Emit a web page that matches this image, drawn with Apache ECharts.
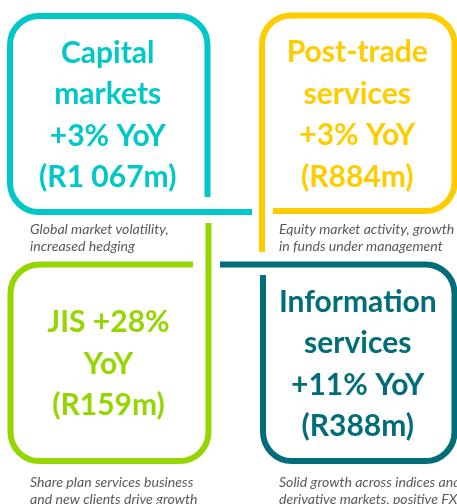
<!DOCTYPE html>
<html>
<head>
<meta charset="utf-8">
<script src="https://cdn.jsdelivr.net/npm/echarts@6/dist/echarts.min.js"></script>
<style>
  html, body { margin: 0; padding: 0; background: #fff; }
  #chart { width: 457px; height: 504px; }
</style>
</head>
<body>
<div id="chart"></div>
<script>
// segment data
const segments = ['Capital markets', 'Post-trade services', 'JIS', 'Information services']
const growthYoY = [3, 3, 28, 11]   // % year on year
const revenue = ['R1 067m', 'R884m', 'R159m', 'R388m']
const drivers = [
  ['Global market volatility,', 'increased hedging'],
  ['Equity market activity, growth', 'in funds under management'],
  ['Share plan services business', 'and new clients drive growth'],
  ['Solid growth across indices and', 'derivative markets, positive FX']
]
// quadrant of each segment [column, row]
const quadrants = [[0, 0], [1, 0], [0, 1], [1, 1]]

const colors = ['#00c8c8', '#ffcc00', '#96d600', '#006d79']

// insets of each box inside its quadrant, and which corner is left open
const boxLayout = [
  { l: 10, t: 16, r: 21, b: 40, open: 2, ext: 44.5, gap: 15, cap: 17 },
  { l: 33.5, t: 15.5, r: 2.5, b: 41, open: 3, ext: 41, gap: 11, cap: 18 },
  { l: 10.5, t: 12.5, r: 20, b: 43, open: 1, ext: 41.5, gap: 15.5, cap: 21 },
  { l: 34.5, t: 12.5, r: 2.5, b: 43, open: 0, ext: 43, gap: 10.5, cap: 21 }
]

// box outline traced clockwise, starting and ending at the open corner
function openBoxPath(L, T, R, B, rad, open, ext, gap) {
  const pts = [[L, T], [R, T], [R, B], [L, B]]
  const dirs = [[1, 0], [0, 1], [-1, 0], [0, -1]]
  const k = 0.5523
  let c = pts[open], d = dirs[open]
  let p = 'M' + (c[0] - d[0] * ext) + ' ' + (c[1] - d[1] * ext)
  for (let i = 1; i <= 3; i++) {
    const ci = pts[(open + i) % 4]
    const din = dirs[(open + i - 1) % 4]
    const dout = dirs[(open + i) % 4]
    const a = [ci[0] - din[0] * rad, ci[1] - din[1] * rad]
    const e = [ci[0] + dout[0] * rad, ci[1] + dout[1] * rad]
    p += ' L' + a[0] + ' ' + a[1]
    p += ' C' + (a[0] + din[0] * rad * k) + ' ' + (a[1] + din[1] * rad * k) + ' ' +
      (e[0] - dout[0] * rad * k) + ' ' + (e[1] - dout[1] * rad * k) + ' ' + e[0] + ' ' + e[1]
  }
  const dl = dirs[(open + 3) % 4]
  p += ' L' + (c[0] - dl[0] * gap) + ' ' + (c[1] - dl[1] * gap)
  return p
}

function boxText(i) {
  const name = segments[i]
  const g = '+' + growthYoY[i] + '%'
  let head = name.indexOf(' ') < 0 ? name + ' ' + g + '\nYoY' : name.replace(' ', '\n') + '\n' + g + ' YoY'
  return head + '\n(' + revenue[i] + ')'
}

const chart = echarts.init(document.getElementById('chart'))

chart.setOption({
  animation: false,
  grid: { left: 0, right: 0, top: 0, bottom: 0 },
  xAxis: { type: 'category', data: [0, 1], show: false },
  yAxis: { type: 'category', data: [0, 1], inverse: true, show: false },
  series: [{
    type: 'custom',
    data: quadrants.map((q, i) => [q[0], q[1], i]),
    renderItem: (params, api) => {
      const i = api.value(2)
      const c = api.coord([api.value(0), api.value(1)])
      const s = api.size([1, 1])
      const x0 = c[0] - s[0] / 2, y0 = c[1] - s[1] / 2
      const lay = boxLayout[i]
      const L = x0 + lay.l, T = y0 + lay.t
      const R = x0 + s[0] - lay.r, B = y0 + s[1] - lay.b
      const capX = i % 2 === 0 ? 30 : x0 + 50.5
      return {
        type: 'group',
        children: [
          {
            type: 'path',
            shape: { pathData: openBoxPath(L, T, R, B, 29, lay.open, lay.ext, lay.gap) },
            style: { fill: null, stroke: colors[i], lineWidth: 6 }
          },
          {
            type: 'text',
            x: (L + R) / 2 - 1,
            y: (T + B) / 2 + 1.5,
            style: {
              text: boxText(i),
              fill: colors[i],
              fontFamily: 'Lato',
              fontWeight: 'bold',
              fontSize: 30,
              lineHeight: 41.5,
              align: 'center',
              verticalAlign: 'middle'
            }
          },
          {
            type: 'text',
            x: capX,
            y: B + lay.cap + 8.5,
            style: {
              text: drivers[i].join('\n'),
              fill: '#595959',
              fontFamily: 'Lato',
              fontStyle: 'italic',
              fontSize: 14.1,
              lineHeight: 17,
              align: 'left',
              verticalAlign: 'middle'
            }
          }
        ]
      }
    }
  }]
})
window.onresize = chart.resize
</script>
</body>
</html>
